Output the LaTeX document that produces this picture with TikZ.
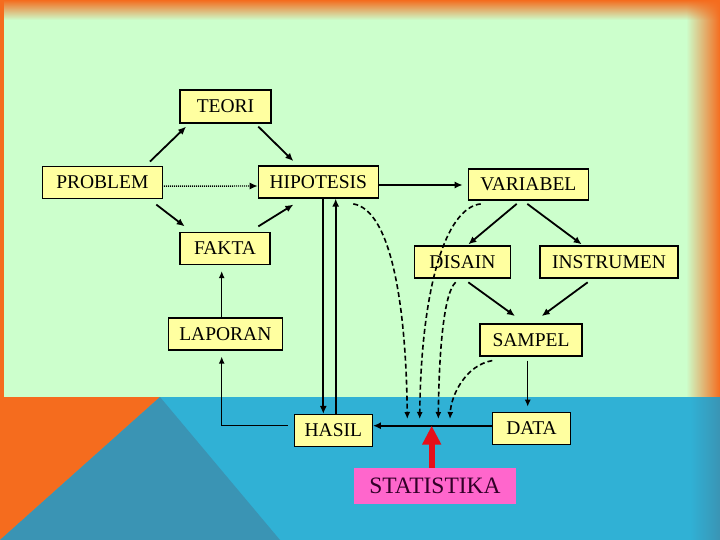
\documentclass[tikz,border=0pt]{standalone}
\usepackage{fontspec}
\setmainfont{Liberation Serif}
\usetikzlibrary{arrows.meta,fadings}
\definecolor{PaleGreen}{RGB}{204,255,204}
\definecolor{SlideOrange}{RGB}{245,108,30}
\definecolor{SeaBlue}{RGB}{48,177,213}
\definecolor{DeepBlue}{RGB}{58,148,180}
\definecolor{BoxYellow}{RGB}{255,255,160}
\definecolor{StatPink}{RGB}{255,102,204}
\definecolor{StatText}{RGB}{50,0,40}
\definecolor{StatRed}{RGB}{230,15,25}

\begin{document}
\begin{tikzpicture}[x=1pt, y=-1pt,
 box/.style={draw, line width=1.2pt, fill=BoxYellow, minimum height=32pt, inner sep=0pt, font=\fontsize{19.5}{22}\selectfont},
 statbox/.style={fill=StatPink, text=StatText, minimum width=162pt, minimum height=36pt, inner sep=0pt, font=\fontsize{23.5}{26}\selectfont},
 link/.style={-{Latex[length=8pt,width=7pt]}, line width=1.8pt},
 lightlink/.style={-{Latex[length=7pt,width=6pt]}, line width=1.3pt},
 dotlink/.style={link, line width=1.4pt, dash pattern=on 1pt off 1pt},
 dashlink/.style={-{Latex[length=7pt,width=6pt]}, line width=1.6pt, dash pattern=on 5pt off 3pt},
 redarrow/.style={-{Triangle[length=19pt,width=18pt]}, line width=6pt, StatRed}
]
\useasboundingbox (0,0) rectangle (720,540);
\fill[SlideOrange] (0,0) rectangle (720,397);
\fill[PaleGreen] (4,0) rectangle (720,397);
\shade[left color=PaleGreen, right color=SlideOrange] (686,0) rectangle (720,397);
\fill[SlideOrange, path fading=south] (4,0) rectangle (720,20);
\fill[SeaBlue] (0,397) rectangle (720,540);
\shade[left color=SeaBlue, right color=DeepBlue] (690,397) rectangle (720,540);
\fill[SlideOrange] (0,397) -- (160,397) -- (0,540) -- cycle;
\fill[DeepBlue] (160,397) -- (280,540) -- (0,540) -- cycle;

\node[box, minimum width=91pt, minimum height=33pt] (teori) at (225.5,106.5) {TEORI};
\node[box, minimum width=120pt] (problem) at (102.3,182.2) {PROBLEM};
\node[box, minimum width=120pt] (hipotesis) at (318.3,182) {HIPOTESIS};
\node[box, minimum width=90pt] (fakta) at (225,248.5) {FAKTA};
\node[box, minimum width=120pt, minimum height=31pt] (variabel) at (528.3,184.5) {VARIABEL};
\node[box, minimum width=96pt] (disain) at (462.5,262) {DISAIN};
\node[box, minimum width=138pt] (instrumen) at (609,262) {INSTRUMEN};
\node[box, minimum width=114pt] (laporan) at (225.3,334) {LAPORAN};
\node[box, minimum width=102pt] (sampel) at (531,340) {SAMPEL};
\node[box, minimum width=78pt] (hasil) at (333.3,430.5) {HASIL};
\node[box, minimum width=78pt] (data) at (531.5,428.3) {DATA};
\node[statbox] (statistika) at (435,486.3) {STATISTIKA};

\coordinate (drop1) at (407.3,419);
\coordinate (drop2) at (419.7,419);
\coordinate (drop3) at (438.3,419);
\coordinate (drop4) at (450,419);
\coordinate (hit) at (431.7,425.7);

\draw[link] ([shift={(-13,-4)}]problem.north east) -- ([shift={(6.7,3)}]teori.south west);
\draw[link] ([shift={(-13.3,3)}]teori.south east) -- ([shift={(35.7,-4.3)}]hipotesis.north west);
\draw[link] ([shift={(-6.6,5.8)}]problem.south east) -- ([shift={(5.3,-5.5)}]fakta.north west);
\draw[link] ([shift={(-12.3,-5.5)}]fakta.north east) -- ([shift={(35.7,6)}]hipotesis.south west);
\draw[dotlink] ([shift={(1,4)}]problem.east) -- ([shift={(0,4)}]hipotesis.west);
\draw[link] ([shift={(0,3)}]hipotesis.east) -- ([shift={(-5,0.5)}]variabel.west);
\draw[link] ([shift={(-11.6,3.3)}]variabel.south) -- ([shift={(5.8,-1)}]disain.north);
\draw[link] ([shift={(-1,3.3)}]variabel.south) -- ([shift={(-27.3,-1)}]instrumen.north);
\draw[link] ([shift={(5.8,3.7)}]disain.south) -- ([shift={(-16,-7.3)}]sampel.north);
\draw[link] ([shift={(-21.3,3.7)}]instrumen.south) -- ([shift={(10.7,-7.3)}]sampel.north);
\draw[lightlink] ([shift={(-3.3,4)}]sampel.south) -- ([shift={(-3.8,-5)}]data.north);
\draw[link] ([shift={(0,-2.6)}]data.west) -- ([shift={(0,-4.8)}]hasil.east);
\draw[lightlink] ([shift={(-6,-4.8)}]hasil.west) -| ([shift={(-3.6,6)}]laporan.south);
\draw[lightlink] ([shift={(-3.6,0)}]laporan.north) -- ([shift={(-3.3,6)}]fakta.south);
\draw[link] ([shift={(5,0)}]hipotesis.south) -- ([shift={(-10,0)}]hasil.north);
\draw[link] ([shift={(2.4,0)}]hasil.north) -- ([shift={(17.4,0)}]hipotesis.south);

\draw[dashlink] ([shift={(35,5.3)}]hipotesis.south) .. controls (390,210) and (406,300) .. (drop1);
\draw[dashlink] ([shift={(-47.6,3.3)}]variabel.south) .. controls (445,208) and (421,290) .. (drop2);
\draw[dashlink] ([shift={(-6.8,3.7)}]disain.south) .. controls (444,292) and (439,350) .. (drop3);
\draw[dashlink] ([shift={(-38.7,4)}]sampel.south) .. controls (466,365) and (451,395) .. (drop4);

\draw[redarrow] ([shift={(-3.3,0)}]statistika.north) -- (hit);
\end{tikzpicture}
\end{document}
